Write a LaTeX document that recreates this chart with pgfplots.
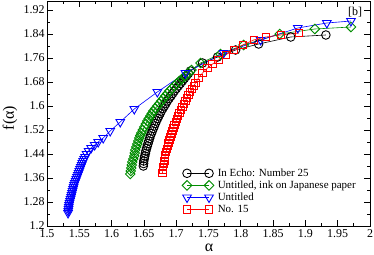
\documentclass[border=0pt]{standalone}
\usepackage{pgfplots}
\pgfplotsset{compat=1.18}
\usepackage{fontspec}
\setmainfont{Liberation Serif}
\definecolor{ggreen}{RGB}{0,140,0}
\begin{document}
\begin{tikzpicture}
\begin{axis}[
  at={(0,0)}, anchor=south west,
  scale only axis, width=323bp, height=225bp,
  xmin=1.5, xmax=2, ymin=1.2, ymax=1.95,
  xtick={1.5,1.55,1.6,1.65,1.7,1.75,1.8,1.85,1.9,1.95,2},
  ytick={1.2,1.28,1.36,1.44,1.52,1.6,1.68,1.76,1.84,1.92},
  minor x tick num=1, minor y tick num=1,
  tick align=inside,
  major tick length=6bp, minor tick length=3bp,
  axis line style={line width=0.8bp},
  every tick/.style={line width=0.8bp, black},
  /pgf/number format/assume math mode=true,
  ticklabel style={font=\fontsize{12}{12}\selectfont},
  xticklabel style={yshift=0bp},
  yticklabel style={xshift=1bp},
  xlabel={α}, ylabel={f(α)},
  xlabel style={at={(axis description cs:0.502,-0.098)}, anchor=center, font=\fontsize{16}{16}\selectfont},
  ylabel style={at={(axis description cs:-0.115,0.48)}, anchor=center, rotate=0, font=\fontsize{16}{16}\selectfont},
  legend image code/.code={\draw plot coordinates {(0bp,0bp) (22bp,0bp)};},
  legend style={at={(axis description cs:0.418,0.262)}, anchor=north west, draw=none, fill=none,
    inner sep=0pt, row sep=0bp, column sep=2.5bp, font=\fontsize{11}{11}\selectfont,
    nodes={inner sep=1.5bp}},
  legend cell align=left,
]
\addplot[black, line width=0.6bp, mark=o, mark size=4.3bp, mark options={line width=0.9bp, solid}] coordinates {
(1.6491,1.4) (1.6495,1.4083) (1.6498,1.4167) (1.6506,1.425) (1.6514,1.4333)
(1.6522,1.4417) (1.6530,1.45) (1.6541,1.4583) (1.6553,1.4667) (1.6564,1.475)
(1.6576,1.4833) (1.6588,1.4917) (1.6599,1.5) (1.6615,1.5083) (1.6630,1.5167)
(1.6646,1.525) (1.6661,1.5333) (1.6677,1.5417) (1.6693,1.55) (1.6712,1.5583)
(1.6731,1.5667) (1.6751,1.575) (1.6770,1.5833) (1.6793,1.5917) (1.6817,1.6)
(1.6840,1.6083) (1.6863,1.6167) (1.6890,1.625) (1.6918,1.6333) (1.6945,1.6417)
(1.6972,1.65) (1.7003,1.6583) (1.7034,1.6667) (1.7065,1.675) (1.7096,1.6833)
(1.7127,1.6917) (1.7158,1.7) (1.7189,1.7083) (1.7220,1.7167)
(1.7407,1.7433) (1.7640,1.7633) (1.7919,1.7867) (1.8276,1.8067) (1.8773,1.83)
(1.9317,1.8367)};
\addlegendentry{In Echo: Number 25}
\addplot[ggreen, line width=0.6bp, mark=square, mark size=3.4bp, mark options={line width=0.9bp, solid, rotate=45}] coordinates {
(1.6289,1.3733) (1.6297,1.3833) (1.6304,1.3933) (1.6312,1.4033) (1.6320,1.4133)
(1.6335,1.4233) (1.6351,1.4333) (1.6359,1.4433) (1.6366,1.4533) (1.6382,1.4633)
(1.6398,1.4733) (1.6413,1.4833) (1.6429,1.4933) (1.6444,1.5017) (1.6460,1.51)
(1.6483,1.52) (1.6506,1.53) (1.6530,1.54) (1.6553,1.55) (1.6576,1.5583)
(1.6599,1.5667) (1.6623,1.575) (1.6646,1.5833) (1.6677,1.5917) (1.6708,1.6)
(1.6739,1.6083) (1.6770,1.6167) (1.6801,1.625) (1.6832,1.6333) (1.6863,1.6417)
(1.6894,1.65) (1.6933,1.6583) (1.6972,1.6667) (1.7011,1.675) (1.7050,1.6833)
(1.7096,1.6917) (1.7143,1.7) (1.7189,1.71) (1.7236,1.72)
(1.7376,1.7433) (1.7686,1.7733) (1.8043,1.8033) (1.8602,1.84) (1.9146,1.8567)
(1.9705,1.8633)};
\addlegendentry{Untitled, ink on Japanese paper}
\addplot[blue, line width=0.6bp, mark=triangle, mark size=5bp, mark options={line width=0.9bp, solid, rotate=180}] coordinates {
(1.5326,1.2433) (1.5329,1.25) (1.5334,1.2567) (1.5337,1.2633) (1.5342,1.27)
(1.5349,1.2767) (1.5357,1.2833) (1.5365,1.29) (1.5373,1.2967) (1.5380,1.3033)
(1.5388,1.31) (1.5396,1.3167) (1.5404,1.3233) (1.5412,1.33) (1.5419,1.3367)
(1.5430,1.3433) (1.5443,1.35) (1.5453,1.3567) (1.5466,1.3633) (1.5477,1.37)
(1.5489,1.3767) (1.5500,1.3833) (1.5512,1.39) (1.5523,1.3967) (1.5536,1.4033)
(1.5547,1.41) (1.5559,1.4167) (1.5575,1.4233) (1.5590,1.43) (1.5613,1.44)
(1.5644,1.45) (1.5683,1.46) (1.5738,1.47) (1.5792,1.48) (1.5870,1.4933)
(1.5978,1.5167) (1.6134,1.5467) (1.6351,1.59) (1.6708,1.6467) (1.7143,1.71)
(1.7733,1.7767) (1.8307,1.82) (1.8882,1.86) (1.9332,1.8767) (1.9705,1.8833)};
\addlegendentry{Untitled}
\addplot[red, line width=0.6bp, mark=square, mark size=3.6bp, mark options={line width=0.9bp, solid}] coordinates {
(1.6786,1.3767) (1.6793,1.3867) (1.6801,1.3967) (1.6809,1.4067) (1.6817,1.4167)
(1.6824,1.4267) (1.6832,1.4367) (1.6844,1.4467) (1.6856,1.4567) (1.6867,1.4667)
(1.6879,1.4767) (1.6894,1.4867) (1.6910,1.4967) (1.6925,1.5067) (1.6941,1.5167)
(1.6957,1.5267) (1.6972,1.5367) (1.6991,1.5467) (1.7011,1.5567) (1.7030,1.5667)
(1.7050,1.5767) (1.7073,1.5867) (1.7096,1.5967) (1.7120,1.6067) (1.7143,1.6167)
(1.7166,1.6267) (1.7189,1.6367) (1.7216,1.6467) (1.7244,1.6567) (1.7271,1.6667)
(1.7298,1.6767) (1.7345,1.6933) (1.7407,1.71) (1.7484,1.7267) (1.7562,1.74)
(1.7655,1.7533) (1.7764,1.77) (1.7888,1.7867) (1.8028,1.8033) (1.8199,1.82)
(1.8385,1.83) (1.8618,1.8367) (1.8898,1.8433)};
\addlegendentry{No. 15}
\node[anchor=center, font=\fontsize{12}{12}\selectfont] at (axis description cs:0.954,0.951) {[b]};
\end{axis}
\pgfresetboundingbox
\path[use as bounding box] (-47bp,-29bp) rectangle (327bp,226bp);
\end{tikzpicture}
\end{document}
